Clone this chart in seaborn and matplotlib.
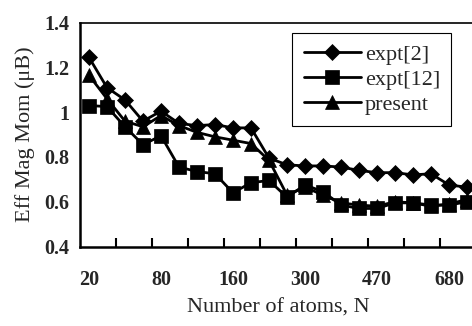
import numpy as np
import pandas as pd
import matplotlib
matplotlib.use("Agg")
import matplotlib.pyplot as plt
import seaborn as sns

# ---- data ----
x_labels = ["20", "", "", "", "80", "", "", "", "160", "", "", "", "300", "", "", "", "470", "", "", "", "680", ""]
expt2 = [1.245, 1.11, 1.055, 0.96, 1.005, 0.95, 0.94, 0.945, 0.93, 0.93, 0.795,
         0.765, 0.76, 0.76, 0.755, 0.74, 0.73, 0.73, 0.72, 0.725, 0.675, 0.665]
expt12 = [1.03, 1.025, 0.935, 0.855, 0.895, 0.755, 0.735, 0.725, 0.64, 0.685, 0.695,
          0.62, 0.675, 0.645, 0.585, 0.57, 0.57, 0.595, 0.595, 0.585, 0.585, 0.60]
present = [1.165, 1.06, 0.96, 0.935, 0.985, 0.94, 0.91, 0.89, 0.875, 0.86, 0.785,
           0.63, 0.665, 0.63, 0.595, 0.585, 0.58, 0.60, 0.595, 0.58, 0.59, 0.61]
series_names = ["expt[2]", "expt[12]", "present"]
y_ticks = [0.4, 0.6, 0.8, 1.0, 1.2, 1.4]
y_tick_labels = ["0.4", "0.6", "0.8", "1", "1.2", "1.4"]

sns.set_style("white")
plt.rcParams["font.family"] = ["Liberation Serif", "DejaVu Serif"]

idx = np.arange(len(x_labels))
df = pd.concat([
    pd.DataFrame({"idx": idx, "val": v, "series": n})
    for n, v in zip(series_names, [expt2, expt12, present])
])

fig = plt.figure(figsize=(4.72, 3.26), dpi=100)
W, H = 472, 326
ax = fig.add_axes([80 / W, 1 - 246.5 / H, 396 / W, 223.8 / H])

styles = {"expt[2]": ("D", 8.5), "expt[12]": ("s", 10.5), "present": ("^", 10.5)}
for n in series_names:
    m, ms = styles[n]
    sns.lineplot(data=df[df.series == n], x="idx", y="val", ax=ax, color="black",
                 marker=m, markersize=ms, markeredgecolor="black", markeredgewidth=0.5,
                 linewidth=2.0, label=n)

ax.set_xlim(-0.5, len(x_labels) - 0.5)
ax.set_ylim(0.4, 1.4)

# x ticks
ax.set_xticks(idx[::4])
ax.set_xticklabels([x_labels[i] for i in idx[::4]], fontsize=14.5, fontweight="bold")
ax.tick_params(axis="x", which="major", length=0, pad=17)
ax.set_xticks(np.arange(0.5, len(x_labels) - 0.5, 2), minor=True)
ax.tick_params(axis="x", which="minor", direction="out", length=4, width=1.5, color="black")
sec = ax.secondary_xaxis("bottom")
sec.set_xticks(np.arange(1.5, len(x_labels) - 0.5, 2))
sec.tick_params(axis="x", direction="in", length=6.5, width=1.5, color="black", labelbottom=False)
sec.spines["bottom"].set_visible(False)

# y ticks
ax.set_yticks(y_ticks)
ax.set_yticklabels(y_tick_labels, fontsize=14.5, fontweight="bold")
ax.set_yticks(np.arange(0.5, 1.4, 0.2), minor=True)
ax.tick_params(axis="y", which="major", direction="inout", length=9, width=1.5, color="black", pad=3)
ax.tick_params(axis="y", which="minor", direction="inout", length=7, width=1.5, color="black")

for s in ["left", "bottom", "top", "right"]:
    ax.spines[s].set_color("black")
    ax.spines[s].set_linewidth(1.8)
ax.spines["top"].set_linewidth(1.2)

ax.set_xlabel("Number of atoms, N", fontsize=16, labelpad=6)
ax.set_ylabel("Eff Mag Mom (\u03bcB)", fontsize=16, labelpad=7)

leg = ax.legend(loc="upper right", bbox_to_anchor=(0.937, 0.954), fontsize=16,
                frameon=True, fancybox=False, edgecolor="black", framealpha=1,
                handlelength=2.6, handletextpad=0.15, labelspacing=0.2,
                borderpad=0.5, borderaxespad=0, numpoints=1)
leg.get_frame().set_linewidth(0.8)

fig.savefig("out.png", dpi=100)
